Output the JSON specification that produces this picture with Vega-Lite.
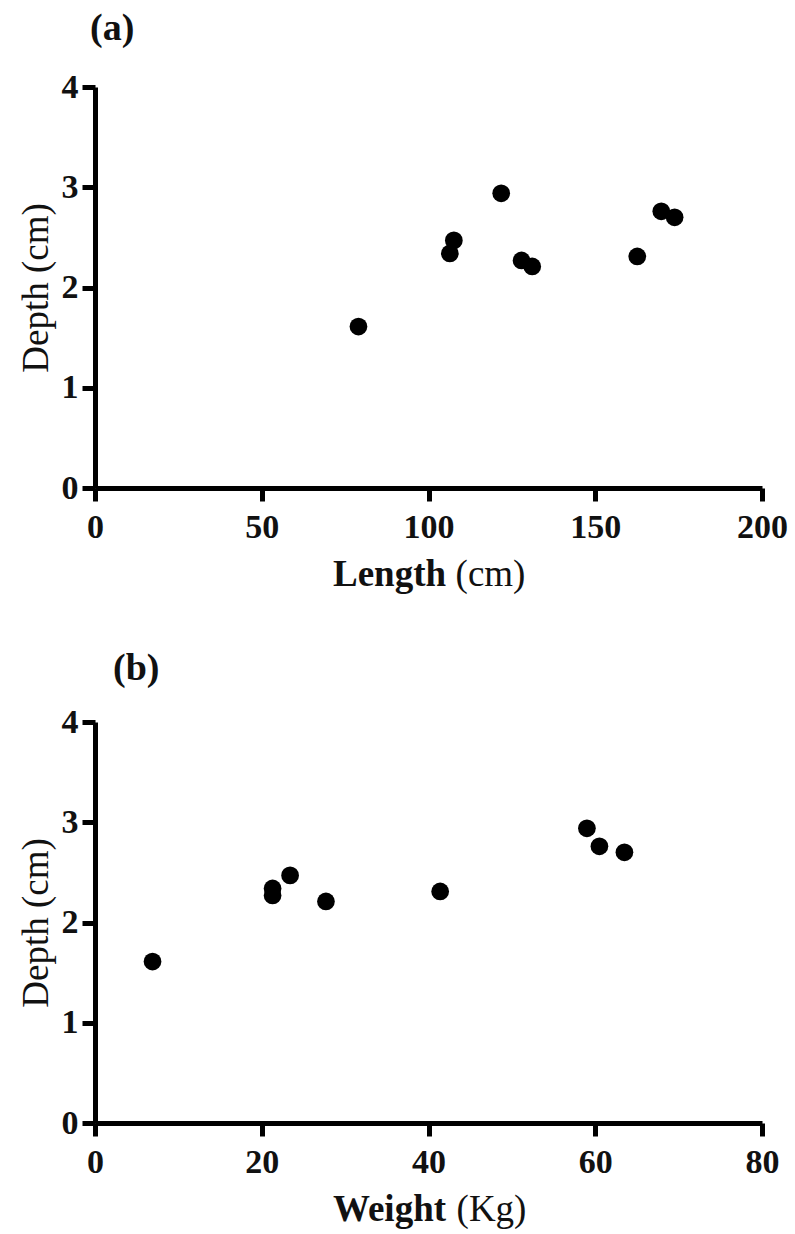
{
  "$schema": "https://vega.github.io/schema/vega-lite/v6.json",
  "background": "white",
  "padding": {"left": 17, "top": 10, "right": 10, "bottom": 2},
  "datasets": {
    "fish": [
      {"Length": 79.0, "Weight": 6.9, "Depth": 1.61},
      {"Length": 106.4, "Weight": 21.3, "Depth": 2.34},
      {"Length": 107.6, "Weight": 23.4, "Depth": 2.47},
      {"Length": 121.8, "Weight": 59.0, "Depth": 2.94},
      {"Length": 127.9, "Weight": 21.3, "Depth": 2.27},
      {"Length": 131.1, "Weight": 27.7, "Depth": 2.21},
      {"Length": 162.6, "Weight": 41.4, "Depth": 2.31},
      {"Length": 169.8, "Weight": 60.5, "Depth": 2.76},
      {"Length": 173.8, "Weight": 63.5, "Depth": 2.70}
    ]
  },
  "config": {
    "view": {"stroke": null},
    "font": "Liberation Serif",
    "axis": {
      "domainColor": "#000", "domainWidth": 5, "tickColor": "#000", "tickWidth": 5, "tickSize": 13,
      "labelFont": "Liberation Serif", "labelFontWeight": "bold", "labelFontSize": 34, "labelColor": "#111",
      "labelFlush": false, "labelOverlap": false, "grid": false,
      "titleFont": "Liberation Serif", "titleFontSize": 37, "titleColor": "#111"
    },
    "title": {"font": "Liberation Serif", "fontSize": 38, "fontWeight": "bold", "anchor": "start", "frame": "group", "color": "#111"}
  },
  "spacing": 58,
  "vconcat": [
    {
      "width": 667, "height": 401,
      "title": {"text": "(a)", "offset": 22, "dx": -5},
      "data": {"name": "fish"},
      "resolve": {"axis": {"x": "independent"}},
      "layer": [
        {
          "mark": {"type": "point", "filled": true, "shape": "circle", "size": 314, "color": "#000", "opacity": 1},
          "encoding": {
            "x": {"field": "Length", "type": "quantitative", "scale": {"domain": [0, 200], "nice": false},
              "axis": {"orient": "bottom", "values": [0, 50, 100, 150, 200], "format": "d", "title": "Length", "titleFontWeight": "bold", "labelPadding": 9, "titleAlign": "center", "titleBaseline": "top", "titleX": 294, "titleY": 68}},
            "y": {"field": "Depth", "type": "quantitative", "scale": {"domain": [0, 4], "nice": false},
              "axis": {"values": [0, 1, 2, 3, 4], "format": "d", "title": "Depth (cm)", "titleFontWeight": "normal", "labelPadding": 4, "titlePadding": 6}}
          }
        },
        {
          "mark": {"type": "point", "filled": true, "shape": "circle", "size": 314, "color": "#000", "opacity": 0},
          "encoding": {
            "x": {"field": "Length", "type": "quantitative", "scale": {"domain": [0, 200], "nice": false},
              "axis": {"orient": "bottom", "domain": false, "ticks": false, "labels": false, "title": "(cm)", "titleFontWeight": "normal", "titleAlign": "center", "titleBaseline": "top", "titleX": 395, "titleY": 68}},
            "y": {"field": "Depth", "type": "quantitative", "scale": {"domain": [0, 4], "nice": false},
              "axis": {"values": [0, 1, 2, 3, 4], "format": "d", "title": "Depth (cm)", "titleFontWeight": "normal", "labelPadding": 4, "titlePadding": 6}}
          }
        }
      ]
    },
    {
      "width": 667, "height": 401,
      "title": {"text": "(b)", "offset": 17, "dx": 18},
      "data": {"name": "fish"},
      "resolve": {"axis": {"x": "independent"}},
      "layer": [
        {
          "mark": {"type": "point", "filled": true, "shape": "circle", "size": 314, "color": "#000", "opacity": 1},
          "encoding": {
            "x": {"field": "Weight", "type": "quantitative", "scale": {"domain": [0, 80], "nice": false},
              "axis": {"orient": "bottom", "values": [0, 20, 40, 60, 80], "format": "d", "title": "Weight", "titleFontWeight": "bold", "labelPadding": 9, "titleAlign": "center", "titleBaseline": "top", "titleX": 294, "titleY": 68}},
            "y": {"field": "Depth", "type": "quantitative", "scale": {"domain": [0, 4], "nice": false},
              "axis": {"values": [0, 1, 2, 3, 4], "format": "d", "title": "Depth (cm)", "titleFontWeight": "normal", "labelPadding": 4, "titlePadding": 6}}
          }
        },
        {
          "mark": {"type": "point", "filled": true, "shape": "circle", "size": 314, "color": "#000", "opacity": 0},
          "encoding": {
            "x": {"field": "Weight", "type": "quantitative", "scale": {"domain": [0, 80], "nice": false},
              "axis": {"orient": "bottom", "domain": false, "ticks": false, "labels": false, "title": "(Kg)", "titleFontWeight": "normal", "titleAlign": "center", "titleBaseline": "top", "titleX": 396, "titleY": 68}},
            "y": {"field": "Depth", "type": "quantitative", "scale": {"domain": [0, 4], "nice": false},
              "axis": {"values": [0, 1, 2, 3, 4], "format": "d", "title": "Depth (cm)", "titleFontWeight": "normal", "labelPadding": 4, "titlePadding": 6}}
          }
        }
      ]
    }
  ]
}
